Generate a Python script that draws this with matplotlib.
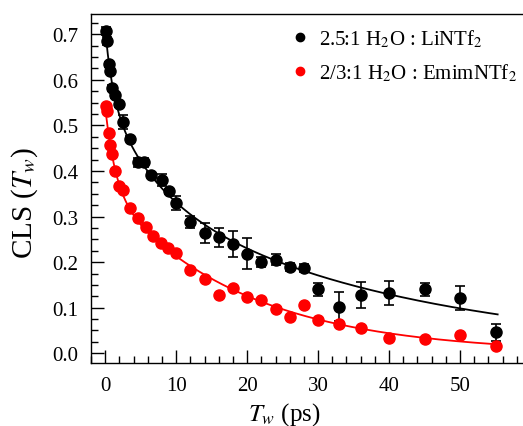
import numpy as np
import matplotlib
matplotlib.use("Agg")
import matplotlib.pyplot as plt
from matplotlib.lines import Line2D
from matplotlib.ticker import MultipleLocator, FixedLocator, FormatStrFormatter

plt.rcParams['font.family'] = ['Liberation Serif', 'DejaVu Serif']
plt.rcParams['mathtext.fontset'] = 'stix'

# 2.5:1 H2O : LiNTf2 (black)
tw_li = [0.1, 0.2, 0.55, 0.7, 1.0, 1.45, 2.0, 2.5, 3.5, 4.6, 5.5, 6.5, 8.0, 9.0, 10.0,
         12.0, 14.0, 16.0, 18.0, 20.0, 22.0, 24.0, 26.0, 28.0, 30.0, 33.0, 36.0, 40.0,
         45.0, 50.0, 55.0]
cls_li = [0.707, 0.685, 0.634, 0.620, 0.582, 0.566, 0.546, 0.507, 0.471, 0.419, 0.419,
          0.392, 0.380, 0.355, 0.330, 0.288, 0.264, 0.254, 0.240, 0.218, 0.200, 0.205,
          0.190, 0.187, 0.140, 0.102, 0.128, 0.132, 0.140, 0.121, 0.046]
err_li = [0.008, 0.008, 0.006, 0.006, 0.006, 0.006, 0.006, 0.015, 0.006, 0.010, 0.010,
          0.006, 0.013, 0.006, 0.015, 0.013, 0.022, 0.021, 0.028, 0.034, 0.011, 0.012,
          0.009, 0.009, 0.015, 0.032, 0.028, 0.027, 0.015, 0.026, 0.018]

# 2/3:1 H2O : EmimNTf2 (red)
tw_em = [0.1, 0.25, 0.5, 0.7, 0.9, 1.4, 2.0, 2.5, 3.5, 4.6, 5.8, 6.8, 7.9, 8.9, 10.0,
         12.0, 14.0, 16.0, 18.0, 20.0, 22.0, 24.0, 26.0, 28.0, 30.0, 33.0, 36.0, 40.0,
         45.0, 50.0, 55.0]
cls_em = [0.543, 0.532, 0.483, 0.457, 0.437, 0.399, 0.368, 0.358, 0.318, 0.296, 0.277,
          0.257, 0.242, 0.231, 0.220, 0.183, 0.163, 0.128, 0.143, 0.123, 0.117, 0.097,
          0.080, 0.107, 0.074, 0.064, 0.055, 0.033, 0.031, 0.040, 0.017]

# multi-exponential fit parameters (amplitudes, time constants in ps)
fit_li_amp = [0.14, 0.19, 0.38]
fit_li_tau = [1.1, 6.5, 37.0]
fit_em_amp = [0.18, 0.36]
fit_em_tau = [1.45, 19.0]

x_major_ticks = [0, 10, 20, 30, 40, 50]

W, H = 523, 427
fig = plt.figure(figsize=(W / 100, H / 100), dpi=100)
ax = fig.add_axes([91 / W, (H - 364.3) / H, (531 - 91) / W, (364.3 - 14.7) / H])

t = np.linspace(0.1, 55.3, 400)
fit_li = sum(a * np.exp(-t / tau) for a, tau in zip(fit_li_amp, fit_li_tau))
fit_em = sum(a * np.exp(-t / tau) for a, tau in zip(fit_em_amp, fit_em_tau))

ax.plot(t, fit_li, color='black', lw=1.3, zorder=2)
ax.plot(t, fit_em, color='red', lw=1.3, zorder=2)
ax.errorbar(tw_li, cls_li, yerr=err_li, fmt='o', color='black', ms=8,
            elinewidth=1.2, capsize=3.5, capthick=1.2, zorder=3)
ax.plot(tw_em, cls_em, 'o', color='red', ms=8, zorder=3)

ax.set_xlim(-2, 60)
ax.set_ylim(-0.022, 0.745)
ax.xaxis.set_major_locator(FixedLocator(x_major_ticks))
ax.xaxis.set_minor_locator(MultipleLocator(2))
ax.yaxis.set_major_locator(MultipleLocator(0.1))
ax.yaxis.set_minor_locator(MultipleLocator(0.025))
ax.yaxis.set_major_formatter(FormatStrFormatter('%.1f'))
ax.tick_params(which='both', direction='in', top=False, right=False, labelsize=15, width=1.0)
ax.tick_params(which='major', length=9.5, pad=9)
ax.tick_params(which='minor', length=5)
for s in ax.spines.values():
    s.set_linewidth(1.0)
ax.spines['right'].set_visible(False)

ax.set_xlabel('$T_w$ (ps)', fontsize=18)
ax.xaxis.set_label_coords((284 - 91) / 440, -0.105)
ax.set_ylabel('CLS ($T_w$)', fontsize=21)
ax.yaxis.set_label_coords(-0.115, 0.46)

handles = [Line2D([], [], marker='o', ls='none', color='black', ms=6),
           Line2D([], [], marker='o', ls='none', color='red', ms=6)]
labels = ['2.5:1 H$_2$O : LiNTf$_2$', '2/3:1 H$_2$O : EmimNTf$_2$']
fig.legend(handles, labels, loc='upper left', bbox_to_anchor=(292 / W, 1 - 29 / H),
           frameon=False, fontsize=15, handlelength=0.8, handletextpad=0.5,
           labelspacing=0.55, borderaxespad=0, borderpad=0)

fig.savefig('out.png', dpi=100)
